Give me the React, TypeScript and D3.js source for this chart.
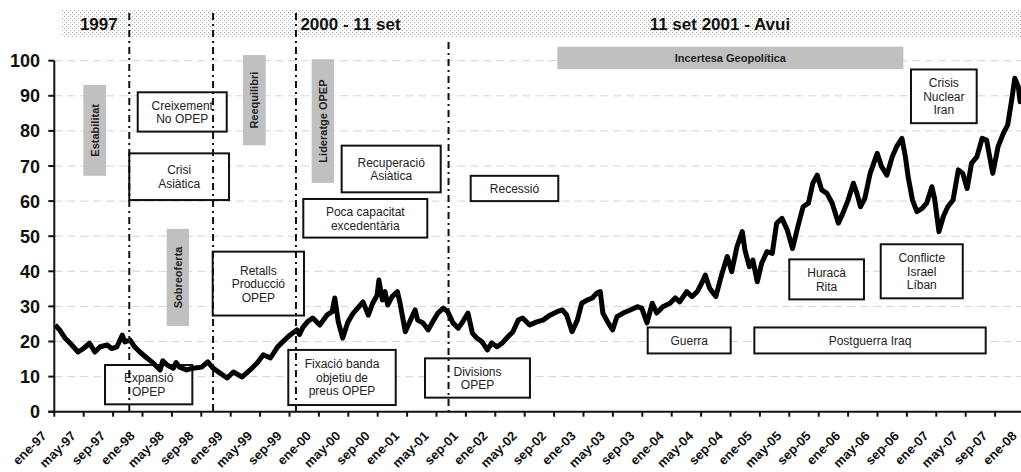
import React, { useEffect, useRef } from 'react';
import * as d3 from 'd3';

const WIDTH = 1021;
const HEIGHT = 472;

// Brent price (decimal year -> USD/bbl)
const priceYears = [
  1997.01, 1997.06, 1997.12, 1997.18, 1997.27, 1997.33, 1997.40, 1997.46, 1997.52, 1997.60,
  1997.65, 1997.71, 1997.77, 1997.80, 1997.86, 1997.91, 1997.97, 1998.05, 1998.12, 1998.20,
  1998.23, 1998.28, 1998.35, 1998.38, 1998.42, 1998.50, 1998.57, 1998.67, 1998.74, 1998.80,
  1998.88, 1998.96, 1999.03, 1999.13, 1999.22, 1999.30, 1999.37, 1999.45, 1999.53, 1999.59,
  1999.67, 1999.75, 1999.78, 1999.82, 1999.87, 1999.93, 2000.01, 2000.09, 2000.15, 2000.18,
  2000.22, 2000.27, 2000.33, 2000.39, 2000.44, 2000.50, 2000.56, 2000.61, 2000.66, 2000.68,
  2000.72, 2000.75, 2000.78, 2000.83, 2000.89, 2000.92, 2000.98, 2001.03, 2001.09, 2001.12,
  2001.18, 2001.24, 2001.29, 2001.35, 2001.41, 2001.46, 2001.52, 2001.58, 2001.63, 2001.69,
  2001.74, 2001.79, 2001.85, 2001.91, 2001.96, 2002.02, 2002.08, 2002.13, 2002.20, 2002.26,
  2002.31, 2002.39, 2002.47, 2002.54, 2002.62, 2002.70, 2002.76, 2002.81, 2002.87, 2002.93,
  2002.98, 2003.04, 2003.10, 2003.15, 2003.19, 2003.22, 2003.28, 2003.33, 2003.38, 2003.45,
  2003.53, 2003.61, 2003.66, 2003.72, 2003.78, 2003.83, 2003.90, 2003.98, 2004.04, 2004.09,
  2004.17, 2004.23, 2004.29, 2004.34, 2004.38, 2004.43, 2004.50, 2004.57, 2004.63, 2004.68,
  2004.74, 2004.80, 2004.83, 2004.88, 2004.92, 2004.97, 2005.02, 2005.08, 2005.14, 2005.19,
  2005.25, 2005.31, 2005.37, 2005.43, 2005.49, 2005.55, 2005.60, 2005.65, 2005.70, 2005.76,
  2005.82, 2005.89, 2005.94, 2006.00, 2006.06, 2006.10, 2006.14, 2006.19, 2006.25, 2006.33,
  2006.38, 2006.44, 2006.50, 2006.55, 2006.61, 2006.65, 2006.68, 2006.73, 2006.78, 2006.84,
  2006.89, 2006.95, 2006.98, 2007.03, 2007.08, 2007.13, 2007.19, 2007.25, 2007.30, 2007.35,
  2007.40, 2007.46, 2007.52, 2007.57, 2007.64, 2007.70, 2007.76, 2007.81, 2007.86, 2007.89,
  2007.93, 2007.95, 2007.98,
];
const priceValues = [
  24.7, 23.3, 21.0, 19.5, 17.0, 18.0, 19.5, 17.0, 18.5, 19.0,
  18.0, 18.5, 21.8, 19.9, 20.4, 18.5, 17.0, 15.3, 13.9, 11.9,
  14.5, 13.3, 12.4, 14.0, 12.7, 11.9, 12.4, 12.7, 14.2, 12.4,
  11.0, 9.6, 11.3, 9.9, 11.9, 13.9, 16.2, 15.3, 18.4, 19.9,
  21.8, 23.3, 22.0, 24.1, 25.6, 26.7, 24.7, 27.5, 28.5, 32.4,
  25.6, 21.0, 25.6, 28.1, 29.5, 31.3, 27.5, 30.9, 33.2, 37.5,
  31.8, 34.2, 30.4, 32.8, 34.2, 30.9, 22.8, 25.6, 29.0, 26.1,
  25.3, 23.3, 25.6, 28.1, 29.5, 28.5, 25.3, 23.8, 25.6, 28.1,
  22.4, 21.0, 19.9, 17.6, 19.6, 18.5, 19.6, 21.0, 22.8, 26.1,
  26.7, 24.7, 25.6, 26.1, 27.5, 28.5, 29.0, 27.5, 22.8, 26.1,
  30.9, 31.8, 32.4, 33.8, 34.2, 28.1, 25.3, 23.3, 27.1, 28.1,
  29.0, 29.9, 29.5, 25.3, 30.9, 28.1, 29.9, 30.9, 32.4, 31.3,
  34.2, 32.8, 34.2, 36.6, 38.9, 35.2, 32.8, 39.4, 44.2, 39.9,
  47.0, 51.3, 46.1, 41.3, 43.2, 37.0, 42.3, 45.6, 45.1, 53.7,
  55.1, 51.8, 46.5, 52.7, 58.4, 59.4, 65.1, 67.4, 63.2, 62.2,
  59.4, 53.7, 56.5, 60.3, 65.1, 62.2, 58.4, 60.8, 67.9, 73.6,
  69.8, 67.4, 72.6, 75.5, 77.9, 72.6, 67.0, 60.3, 57.0, 57.9,
  59.4, 64.1, 60.8, 51.3, 55.6, 58.4, 60.3, 68.9, 67.9, 63.6,
  70.8, 72.6, 77.9, 77.4, 67.9, 75.5, 79.3, 81.7, 89.7, 95.0,
  92.6, 88.3, 90.0,
];

const tickLabels = [
  'ene-97', 'may-97', 'sep-97', 'ene-98', 'may-98', 'sep-98', 'ene-99', 'may-99', 'sep-99',
  'ene-00', 'may-00', 'sep-00', 'ene-01', 'may-01', 'sep-01', 'ene-02', 'may-02', 'sep-02',
  'ene-03', 'may-03', 'sep-03', 'ene-04', 'may-04', 'sep-04', 'ene-05', 'may-05', 'sep-05',
  'ene-06', 'may-06', 'sep-06', 'ene-07', 'may-07', 'sep-07', 'ene-08',
];
const yTicks = [0, 10, 20, 30, 40, 50, 60, 70, 80, 90, 100];

// period markers (decimal year)
const periodLines = [1997.85, 1998.80, 1999.74, 2001.47];
const periodTitles = ['1997', '2000 - 11 set', '11 set 2001 - Avui'];
const periodTitleYears = [1997.29, 1999.79, 2003.75];

// grey bars: [label, year0, year1, value0, value1]
const greyBars: [string, number, number, number, number][] = [
  ['Estabilitat', 1997.33, 1997.586, 67.2, 93.1],
  ['Sobreoferta', 1998.274, 1998.527, 24.4, 52.1],
  ['Reequilibri', 1999.139, 1999.397, 75.9, 101.6],
  ['Lideratge OPEP', 1999.918, 2000.171, 65.2, 100.4],
];
const greyBand: [string, number, number, number, number] = ['Incertesa Geopolítica', 2002.703, 2006.626, 97.6, 104.0];

// framed notes: [lines, year0, year1, value0, value1]
const notes: [string[], number, number, number, number][] = [
  [['Creixement', 'No OPEP'], 1997.946, 1998.955, 79.8, 91.0],
  [['Crisi', 'Asiàtica'], 1997.85, 1998.981, 60.3, 73.6],
  [['Retalls', 'Producció', 'OPEP'], 1998.796, 1999.831, 27.4, 45.6],
  [['Poca capacitat', 'excedentària'], 1999.823, 2001.229, 49.6, 60.6],
  [['Recuperació', 'Asiàtica'], 2000.258, 2001.381, 62.5, 75.8],
  [['Recessió'], 2001.721, 2002.714, 60.0, 67.2],
  [['Crisis', 'Nuclear', 'Iran'], 2006.713, 2007.458, 82.2, 97.5],
  [['Huracà', 'Rita'], 2005.333, 2006.18, 32.0, 43.4],
  [['Conflicte', 'Israel', 'Líban'], 2006.37, 2007.3, 32.3, 47.7],
  [['Guerra'], 2003.728, 2004.669, 16.6, 24.0],
  [['Postguerra Iraq'], 2004.937, 2007.56, 16.6, 24.0],
  [['Expansió', 'OPEP'], 1997.575, 1998.565, 2.1, 13.3],
  [['Fixació banda', 'objetiu de', 'preus OPEP'], 1999.653, 2000.871, 1.9, 17.6],
  [['Divisions', 'OPEP'], 2001.203, 2002.393, 4.0, 15.2],
];

const MARGIN = { top: 60.7, right: 0, bottom: 60.3, left: 54.3 };
const FONT = 'Arial, "Liberation Sans", sans-serif';

const OilChart: React.FC = () => {
  const svgRef = useRef<SVGSVGElement>(null);

  useEffect(() => {
    if (!svgRef.current) return;
    const svg = d3.select(svgRef.current);
    svg.selectAll('*').remove();

    const x = d3.scaleLinear().domain([1997, 2008]).range([MARGIN.left, MARGIN.left + 88.2 * 11]);
    const y = d3.scaleLinear().domain([0, 100]).range([HEIGHT - MARGIN.bottom, MARGIN.top]);
    const x0 = MARGIN.left;
    const y0 = y(0);

    svg.append('rect').attr('width', WIDTH).attr('height', HEIGHT).attr('fill', '#fff');

    // --- Banner ---
    const pat = svg.append('defs').append('pattern')
      .attr('id', 'dots').attr('width', 4).attr('height', 4)
      .attr('patternUnits', 'userSpaceOnUse');
    pat.append('rect').attr('width', 4).attr('height', 4).attr('fill', '#fff');
    pat.append('rect').attr('x', 0).attr('y', 0).attr('width', 1).attr('height', 1).attr('fill', '#a8a8a8');
    pat.append('rect').attr('x', 2).attr('y', 2).attr('width', 1).attr('height', 1).attr('fill', '#a8a8a8');

    svg.append('rect')
      .attr('x', 62).attr('y', 9).attr('width', WIDTH - 62).attr('height', 29)
      .attr('fill', 'url(#dots)');

    periodTitles.forEach((t, i) => {
      svg.append('text')
        .attr('x', x(periodTitleYears[i])).attr('y', 30)
        .attr('font-family', FONT).attr('font-weight', 'bold').attr('font-size', 17)
        .attr('fill', '#111')
        .text(t);
    });

    // --- Grid ---
    yTicks.filter(d => d > 0).forEach(d => {
      svg.append('line')
        .attr('x1', x0).attr('x2', WIDTH).attr('y1', y(d)).attr('y2', y(d))
        .attr('stroke', '#d4d4d4').attr('stroke-width', 1).attr('stroke-dasharray', '8 5');
    });

    // --- Grey bars ---
    greyBars.forEach(([label, a, b, lo, hi]) => {
      const bx = x(a), bw = x(b) - x(a), by = y(hi), bh = y(lo) - y(hi);
      svg.append('rect').attr('x', bx).attr('y', by).attr('width', bw).attr('height', bh).attr('fill', '#c0c0c0');
      const cx = bx + bw / 2, cy = by + bh / 2;
      svg.append('text')
        .attr('transform', `translate(${cx + 4},${cy}) rotate(-90)`)
        .attr('text-anchor', 'middle')
        .attr('font-family', FONT).attr('font-weight', 'bold').attr('font-size', 11)
        .attr('fill', '#222')
        .text(label);
    });
    {
      const [label, a, b, lo, hi] = greyBand;
      svg.append('rect').attr('x', x(a)).attr('y', y(hi)).attr('width', x(b) - x(a)).attr('height', y(lo) - y(hi)).attr('fill', '#c0c0c0');
      svg.append('text')
        .attr('x', (x(a) + x(b)) / 2).attr('y', (y(lo) + y(hi)) / 2 + 4)
        .attr('text-anchor', 'middle')
        .attr('font-family', FONT).attr('font-weight', 'bold').attr('font-size', 11)
        .attr('fill', '#222')
        .text(label);
    }

    // --- Framed notes ---
    const lh = 13.5;
    notes.forEach(([lines, a, b, lo, hi]) => {
      svg.append('rect')
        .attr('x', x(a)).attr('y', y(hi)).attr('width', x(b) - x(a)).attr('height', y(lo) - y(hi))
        .attr('fill', '#fff').attr('stroke', '#111').attr('stroke-width', 2);
      const cx = (x(a) + x(b)) / 2;
      const cy = (y(lo) + y(hi)) / 2;
      lines.forEach((ln, i) => {
        svg.append('text')
          .attr('x', cx).attr('y', cy - ((lines.length - 1) * lh) / 2 + i * lh + 4.5)
          .attr('text-anchor', 'middle')
          .attr('font-family', FONT).attr('font-size', 12)
          .attr('fill', '#222')
          .text(ln);
      });
    });

    // --- Price line ---
    const pts = priceYears.map((t, i) => [t, priceValues[i]] as [number, number]);
    const line = d3.line<[number, number]>().x(d => x(d[0])).y(d => y(d[1]));
    svg.append('path')
      .datum(pts)
      .attr('d', line)
      .attr('fill', 'none').attr('stroke', '#000')
      .attr('stroke-width', 5).attr('stroke-linejoin', 'round');

    // --- Period separators ---
    periodLines.forEach((t, i) => {
      svg.append('line')
        .attr('x1', x(t)).attr('x2', x(t))
        .attr('y1', i === 3 ? 42 : 13).attr('y2', y0)
        .attr('stroke', '#111').attr('stroke-width', 2)
        .attr('stroke-dasharray', '7 4 2 4');
    });

    // --- Axes ---
    svg.append('line').attr('x1', x0).attr('x2', x0).attr('y1', y(100)).attr('y2', y0)
      .attr('stroke', '#111').attr('stroke-width', 2);
    svg.append('line').attr('x1', x0 - 6).attr('x2', WIDTH).attr('y1', y0).attr('y2', y0)
      .attr('stroke', '#111').attr('stroke-width', 2);

    yTicks.forEach(d => {
      svg.append('line').attr('x1', x0 - 6).attr('x2', x0).attr('y1', y(d)).attr('y2', y(d))
        .attr('stroke', '#111').attr('stroke-width', 2);
      svg.append('text')
        .attr('x', 40).attr('y', y(d) + 6.5)
        .attr('text-anchor', 'end')
        .attr('font-family', FONT).attr('font-weight', 'bold').attr('font-size', 18)
        .attr('fill', '#111')
        .text(d);
    });

    tickLabels.forEach((lab, i) => {
      const tx = x(1997 + i / 3);
      svg.append('line').attr('x1', tx).attr('x2', tx).attr('y1', y0).attr('y2', y0 + 5)
        .attr('stroke', '#111').attr('stroke-width', 2);
      svg.append('text')
        .attr('transform', `translate(${tx - 7},${y0 + 25}) rotate(-45)`)
        .attr('text-anchor', 'end')
        .attr('font-family', FONT).attr('font-weight', 'bold').attr('font-size', 13)
        .attr('fill', '#111')
        .text(lab);
    });
  }, []);

  return (
    <div style={{ position: 'absolute', left: 0, top: 0, width: WIDTH, height: HEIGHT }}>
      <svg ref={svgRef} width={WIDTH} height={HEIGHT} viewBox={`0 0 ${WIDTH} ${HEIGHT}`} style={{ display: 'block' }} />
    </div>
  );
};

export default OilChart;
